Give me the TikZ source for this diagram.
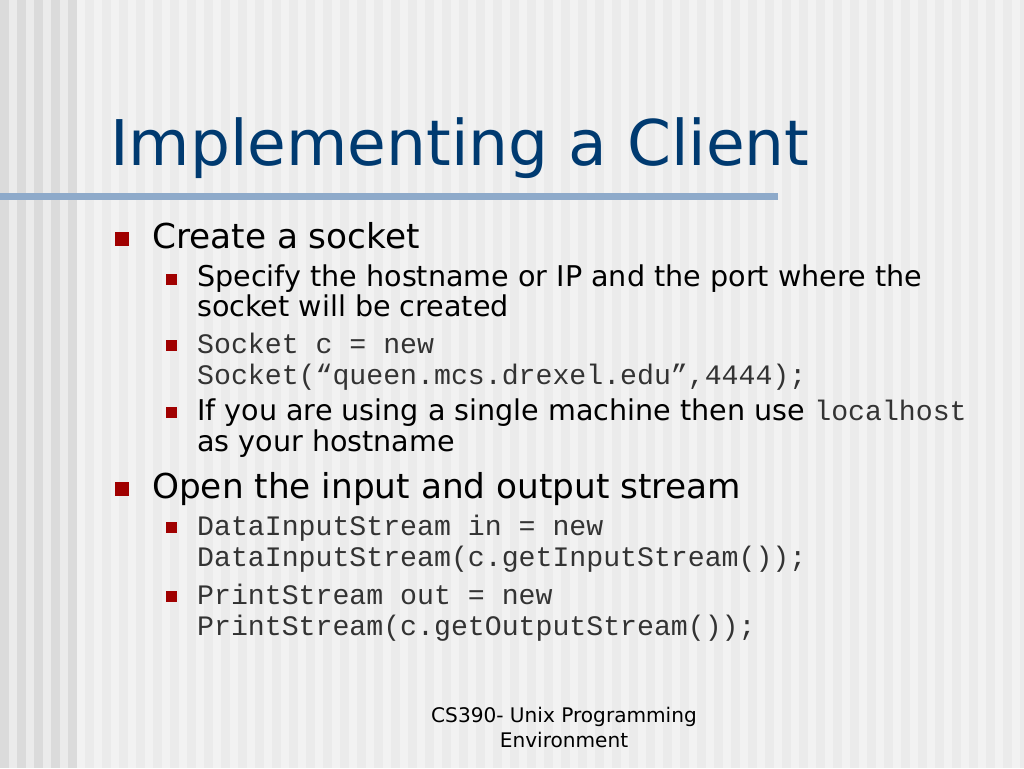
\documentclass[tikz,border=0pt]{standalone}
\usepackage{fontspec}
\setmainfont{DejaVu Sans}
\setmonofont{Liberation Mono}
\definecolor{titleblue}{HTML}{003A70}
\definecolor{bulletred}{HTML}{A00000}
\definecolor{barblue}{HTML}{8EAACA}
\definecolor{codegray}{HTML}{333333}
\begin{document}
\begin{tikzpicture}[
    x=1pt, y=-1pt,
    every node/.style={inner sep=0pt, anchor=base west},
    title text/.style={font=\fontsize{63}{70}\selectfont, text=titleblue},
    level one/.style={font=\fontsize{34.3}{40}\selectfont},
    level two/.style={font=\fontsize{28.6}{32}\selectfont},
    code two/.style={font=\ttfamily\fontsize{28.2}{32}\selectfont, text=codegray},
    bullet one/.style={fill=bulletred, minimum size=14pt, anchor=center},
    bullet two/.style={fill=bulletred, minimum size=11pt, anchor=center},
    footer text/.style={font=\fontsize{20.1}{24}\selectfont, anchor=base},
    ]
\useasboundingbox (0,0) rectangle (1024,768);
% striped background
\fill[white!95!black] (0,0) rectangle (1024,768);
\foreach \i in {0,...,60}
  \fill[white!92!black] (17*\i,0) rectangle (17*\i+8.5,768);
\fill[white!92!black] (0,0) rectangle (77,768);
\foreach \i in {0,...,4}
  \fill[white!86!black] (17*\i,0) rectangle (17*\i+8.5,768);
% title and bar
\node[title text] (title) at (110,165) {Implementing a Client};
\fill[barblue] (0,193) rectangle (778,200);
% first group
\node[bullet one] (b1) at (122,239) {};
\node[level one] (create) at (152,248) {Create a socket};
\node[bullet two] (b11) at (171,279) {};
\node[level two] (specify) at (197,286) {Specify the hostname or IP and the port where the};
\node[level two] (specifyB) at (197,316) {socket will be created};
\node[bullet two] (b12) at (171,345) {};
\node[code two] (socket) at (197,353) {Socket c = new};
\node[code two] (socketB) at (197,384) {Socket(“queen.mcs.drexel.edu”,4444);};
\node[bullet two] (b13) at (171,412) {};
\node[level two] (single) at (197,420) {If you are using a single machine then use \texttt{\color{codegray}\fontsize{28.2}{32}\selectfont localhost}};
\node[level two] (singleB) at (197,451) {as your hostname};
% second group
\node[bullet one] (b2) at (122,489) {};
\node[level one] (open) at (152,498) {Open the input and output stream};
\node[bullet two] (b21) at (171,527) {};
\node[code two] (input) at (197,535) {DataInputStream in = new};
\node[code two] (inputB) at (197,566) {DataInputStream(c.getInputStream());};
\node[bullet two] (b22) at (171,596) {};
\node[code two] (output) at (197,604) {PrintStream out = new};
\node[code two] (outputB) at (197,635) {PrintStream(c.getOutputStream());};
% footer
\node[footer text] (footer) at (564,722) {CS390- Unix Programming};
\node[footer text] (footerB) at (564,747) {Environment};
\end{tikzpicture}
\end{document}
